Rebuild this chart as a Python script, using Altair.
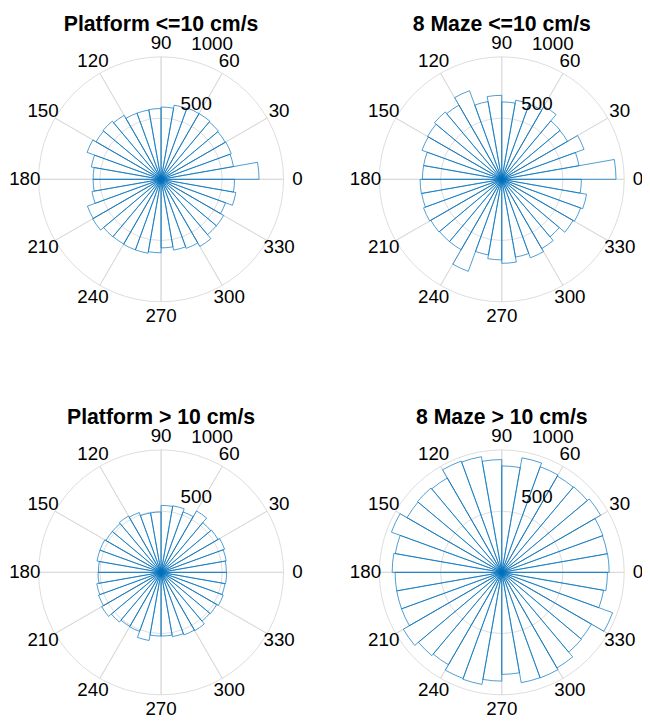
import math
import pandas as pd
import altair as alt

# ---------------- data ----------------
TITLES = ["Platform <=10 cm/s", "8 Maze <=10 cm/s", "Platform > 10 cm/s", "8 Maze > 10 cm/s"]
BIN_EDGES = list(range(0, 370, 10))          # degrees, 36 bins of 10 deg

COUNTS_PLATFORM_SLOW = [800, 600, 610, 605, 612, 620, 620, 615, 590, 578, 575, 575,
                        603, 620, 613, 643, 578, 555, 555, 573, 640, 645, 613, 610,
                        613, 613, 600, 560, 587, 600, 633, 590, 590, 560, 620, 600]
COUNTS_MAZE_SLOW = [933, 640, 715, 620, 623, 690, 653, 656, 632, 686, 645, 770,
                    700, 718, 700, 693, 648, 648, 667, 664, 680, 669, 664, 664,
                    800, 627, 658, 686, 645, 682, 653, 613, 672, 685, 703, 650]
COUNTS_PLATFORM_FAST = [533, 540, 552, 537, 530, 579, 525, 552, 547, 493, 493, 520,
                        531, 520, 520, 531, 531, 512, 515, 533, 543, 560, 530, 510,
                        513, 565, 520, 520, 533, 544, 550, 520, 525, 540, 530, 535]
COUNTS_MAZE_FAST = [877, 875, 879, 932, 913, 908, 918, 950, 869, 921, 959, 967,
                    890, 899, 893, 959, 883, 895, 871, 871, 871, 928, 888, 871,
                    922, 929, 888, 833, 915, 917, 901, 850, 845, 963, 844, 863]
COUNTS = [COUNTS_PLATFORM_SLOW, COUNTS_MAZE_SLOW, COUNTS_PLATFORM_FAST, COUNTS_MAZE_FAST]

ANGLE_TICKS = list(range(0, 360, 30))
R_TICKS = [500, 1000]
R_MAX = 1000
R_LABEL_ANGLE = 80
FULL_TURN = [0, 360]

# ---------------- layout ----------------
CX = [155, 500, 155, 500]
CY = [169, 169, 567, 567]
TITLE_Y = [19, 19, 417, 417]      # alphabetic baseline
R_PX = 124
FONT = "Liberation Sans"
BAR_COLOR = "#0072BD"
GRID_COLOR = "#d9d9d9"

# ---------------- tables ----------------
bars = pd.DataFrame([
    {"panel": p, "a0": BIN_EDGES[k], "a1": BIN_EDGES[k + 1], "value": COUNTS[p][k],
     "cx": CX[p], "cy": CY[p]}
    for p in range(4) for k in range(len(BIN_EDGES) - 1)
])
rings = pd.DataFrame([{"panel": p, "r": r, "t0": FULL_TURN[0], "t1": FULL_TURN[1],
                       "cx": CX[p], "cy": CY[p]}
                      for p in range(4) for r in R_TICKS])
spokes = pd.DataFrame([{"panel": p, "a": a, "r": R_MAX, "cx": CX[p], "cy": CY[p],
                        "label": str(a)}
                       for p in range(4) for a in ANGLE_TICKS])
rlabels = pd.DataFrame([{"panel": p, "ta": R_LABEL_ANGLE, "r": r, "cx": CX[p], "cy": CY[p],
                         "label": str(r)}
                        for p in range(4) for r in R_TICKS])
titles = pd.DataFrame([{"panel": p, "title": TITLES[p], "cx": CX[p], "ty": TITLE_Y[p]}
                       for p in range(4)])

theta_scale = alt.Scale(domain=[0, 360], range=[math.pi / 2, math.pi / 2 - 2 * math.pi])
r_scale = alt.Scale(type="linear", domain=[0, R_MAX], range=[0, R_PX], zero=True)

X = alt.X("cx:Q", scale=None, axis=None)
Y = alt.Y("cy:Q", scale=None, axis=None)

ring_layer = alt.Chart(rings).mark_arc(
    stroke=GRID_COLOR, strokeWidth=0.9, fill="white", fillOpacity=0
).encode(
    x=X, y=Y,
    theta=alt.Theta("t0:Q", scale=theta_scale, stack=False), theta2="t1:Q",
    radius=alt.Radius("r:Q", scale=r_scale),
)

spoke_layer = alt.Chart(spokes).mark_arc(
    stroke=GRID_COLOR, strokeWidth=0.9, fill="white", fillOpacity=0
).encode(
    x=X, y=Y,
    theta=alt.Theta("a:Q", scale=theta_scale, stack=False), theta2="a:Q",
    radius=alt.Radius("r:Q", scale=r_scale),
)

bar_layer = alt.Chart(bars).mark_arc(
    stroke=BAR_COLOR, strokeWidth=0.7, fill="white", fillOpacity=0
).encode(
    x=X, y=Y,
    theta=alt.Theta("a0:Q", scale=theta_scale, stack=False), theta2="a1:Q",
    radius=alt.Radius("value:Q", scale=r_scale),
)

angle_labels = alt.Chart(spokes).mark_text(
    radius=138, fontSize=19, font=FONT, color="black", align="center", baseline="middle"
).encode(
    x=X, y=Y,
    theta=alt.Theta("a:Q", scale=theta_scale, stack=False),
    text="label:N",
)

r_labels = alt.Chart(rlabels).mark_text(
    fontSize=19, font=FONT, color="black", align="left", baseline="bottom", dx=9, dy=-5
).encode(
    x=X, y=Y,
    theta=alt.Theta("ta:Q", scale=theta_scale, stack=False),
    radius=alt.Radius("r:Q", scale=r_scale),
    text="label:N",
)

title_layer = alt.Chart(titles).mark_text(
    fontSize=21.5, font=FONT, fontWeight="bold", color="black", align="center",
    baseline="alphabetic"
).encode(
    x=X, y=alt.Y("ty:Q", scale=None, axis=None),
    text="title:N",
)

chart = alt.layer(
    ring_layer, spoke_layer, bar_layer, angle_labels, r_labels, title_layer
).properties(
    width=642, height=710, padding=0,
    autosize=alt.AutoSizeParams(type="none"),
).configure_view(stroke=None)

chart.save("out.html", embed_options={"renderer": "svg", "actions": False})
